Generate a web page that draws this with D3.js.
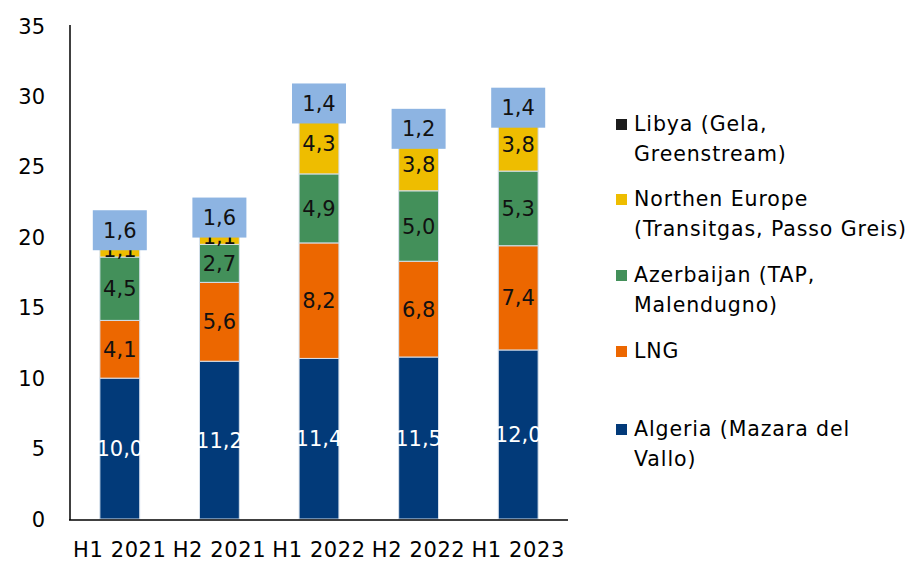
<!DOCTYPE html>
<html>
<head>
<meta charset="utf-8">
<script src="https://cdn.jsdelivr.net/npm/d3@7"></script>
<style>
  body { margin: 0; background: #fff; }
  svg text { font-family: "DejaVu Sans", sans-serif; }
</style>
</head>
<body>
<div id="chart"></div>
<script>
// data
var periods = ['H1 2021', 'H2 2021', 'H1 2022', 'H2 2022', 'H1 2023'];
var algeria = [10.0, 11.2, 11.4, 11.5, 12.0];
var lng = [4.1, 5.6, 8.2, 6.8, 7.4];
var azerbaijan = [4.5, 2.7, 4.9, 5.0, 5.3];
var northEurope = [1.1, 1.1, 4.3, 3.8, 3.8];
var libya = [1.6, 1.6, 1.4, 1.2, 1.4];
var yTicks = [0, 5, 10, 15, 20, 25, 30, 35];

var series = [
	{ key: 'algeria', values: algeria, color: '#023a79', text: '#ffffff', legend: ['Algeria (Mazara del', 'Vallo)'] },
	{ key: 'lng', values: lng, color: '#ec6700', text: '#111', legend: ['LNG'] },
	{ key: 'azerbaijan', values: azerbaijan, color: '#43905a', text: '#111', legend: ['Azerbaijan (TAP,', 'Malendugno)'] },
	{ key: 'northEurope', values: northEurope, color: '#eebd00', text: '#111', legend: ['Northen Europe', '(Transitgas, Passo Greis)'] },
	{ key: 'libya', values: libya, color: '#1c1c1c', text: '#111', legend: ['Libya (Gela,', 'Greenstream)'] }
];

var width = 917, height = 561;
var svg = d3.select('#chart').append('svg').attr('width', width).attr('height', height);

var x = d3.scaleBand().domain(periods).range([70, 568]).paddingInner(0.6).paddingOuter(0.3);
var y = d3.scaleLinear().domain([0, 35]).range([519, 26]);

var rows = periods.map(function (p, i) {
	var r = { period: p };
	series.forEach(function (s) { r[s.key] = s.values[i]; });
	return r;
});
var stacked = d3.stack().keys(series.map(function (s) { return s.key; }))(rows);

// bars
var layers = svg.selectAll('g.layer')
	.data(stacked)
	.enter()
	.append('g')
	.attr('class', 'layer')
	.attr('fill', function (d, i) { return series[i].color; });

layers.selectAll('rect')
	.data(function (d) { return d; })
	.enter()
	.append('rect')
	.attr('x', function (d) { return x(d.data.period); })
	.attr('y', function (d) { return y(d[1]); })
	.attr('width', x.bandwidth())
	.attr('height', function (d) { return y(d[0]) - y(d[1]); })
	.attr('stroke', '#d6e0ec')
	.attr('stroke-width', 1);

// axes
var axisG = svg.append('g');
axisG.append('line').attr('x1', 70).attr('x2', 70).attr('y1', y(35) - 1).attr('y2', y(0) + 1)
	.attr('stroke', '#000').attr('stroke-width', 1.5);
axisG.append('line').attr('x1', 69).attr('x2', 568).attr('y1', y(0) + 1).attr('y2', y(0) + 1)
	.attr('stroke', '#000').attr('stroke-width', 1.5);

svg.selectAll('text.ytick')
	.data(yTicks)
	.enter()
	.append('text')
	.attr('class', 'ytick')
	.attr('x', 45)
	.attr('y', function (d) { return y(d); })
	.attr('dy', '0.36em')
	.attr('text-anchor', 'end')
	.style('font-size', '21px')
	.text(function (d) { return d; });

svg.selectAll('text.xtick')
	.data(periods)
	.enter()
	.append('text')
	.attr('class', 'xtick')
	.attr('x', function (d) { return x(d) + x.bandwidth() / 2; })
	.attr('y', 549)
	.attr('dy', '0.36em')
	.attr('text-anchor', 'middle')
	.style('font-size', '21px')
	.style('letter-spacing', '0.6px')
	.text(function (d) { return d; });

var fmt = function (v) { return d3.format('.1f')(v).replace('.', ','); };

// value labels for the first four series
stacked.slice(0, 4).forEach(function (layer, i) {
	svg.append('g').selectAll('text')
		.data(layer)
		.enter()
		.append('text')
		.attr('x', function (d) { return x(d.data.period) + x.bandwidth() / 2; })
		.attr('y', function (d) { return y((d[0] + d[1]) / 2); })
		.attr('dy', '0.36em')
		.attr('text-anchor', 'middle')
		.attr('fill', series[i].text)
		.style('font-size', '21px')
		.text(function (d) { return fmt(d[1] - d[0]); });
});

// Libya labels in boxes
var libyaLayer = stacked[4];
var boxW = 54, boxH = 40;
var boxes = svg.append('g').selectAll('g')
	.data(libyaLayer)
	.enter()
	.append('g')
	.attr('transform', function (d) {
		return 'translate(' + (x(d.data.period) + x.bandwidth() / 2) + ',' + y((d[0] + d[1]) / 2) + ')';
	});
boxes.append('rect')
	.attr('x', -boxW / 2).attr('y', -boxH / 2)
	.attr('width', boxW).attr('height', boxH)
	.attr('fill', '#8db4e2');
boxes.append('text')
	.attr('text-anchor', 'middle')
	.attr('dy', '0.36em')
	.attr('fill', '#111')
	.style('font-size', '21px')
	.text(function (d) { return fmt(d[1] - d[0]); });

// legend
var legendY = [124, 199, 275, 351, 429];
var legendSeries = series.slice().reverse();
var leg = svg.append('g').selectAll('g')
	.data(legendSeries)
	.enter()
	.append('g')
	.attr('transform', function (d, i) { return 'translate(616,' + legendY[i] + ')'; });
leg.append('rect')
	.attr('x', 0).attr('y', -5)
	.attr('width', 11).attr('height', 11)
	.attr('fill', function (d) { return d.color; });
leg.selectAll('text')
	.data(function (d) { return d.legend; })
	.enter()
	.append('text')
	.attr('x', 18)
	.attr('y', function (d, j) { return j * 30; })
	.attr('dy', '0.36em')
	.style('font-size', '20.5px')
	.style('letter-spacing', '0.9px')
	.text(function (d) { return d; });
</script>
</body>
</html>
